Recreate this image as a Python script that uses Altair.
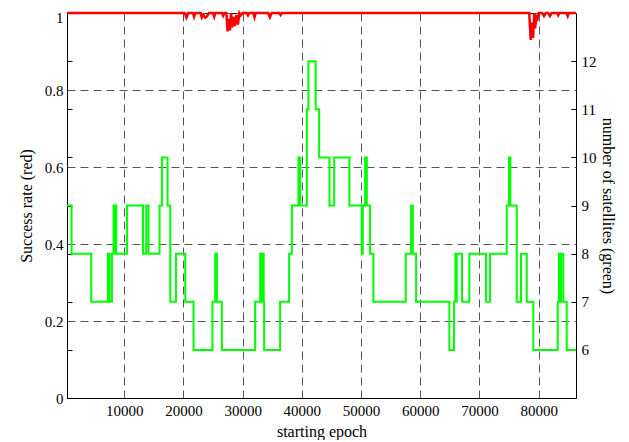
import altair as alt
import pandas as pd

# ---- data ----
green_epoch = [330, 1100, 4430, 7250, 7520, 7920, 8190, 8400, 8480, 8650,
               10460, 13160, 13710, 14100, 15960, 16360, 17310, 17770, 18730, 20300,
               21700, 24900, 25360, 25650, 26490, 32110, 32960, 33210, 33300, 33550,
               33630, 36330, 37850, 38310, 39420, 39710, 40840, 41110, 42330, 42920,
               44660, 45450, 48030, 50120, 50290, 50680, 50970, 51520, 52080, 57550,
               58450, 58730, 59290, 64910, 65700, 65920, 66040, 66160, 67050, 68290,
               71110, 71780, 74600, 74990, 75210, 76290, 77010, 77980, 79090, 83210,
               83430, 83600, 83770, 84150, 84730, 86300]
green_sats = [9, 8, 7, 8, 7, 8, 9, 8, 9, 8,
              9, 8, 9, 8, 9, 10, 9, 7, 8, 7,
              6, 7, 8, 7, 6, 7, 8, 7, 8, 7,
              6, 7, 8, 9, 10, 9, 11, 12, 11, 10,
              9, 10, 9, 8, 9, 10, 9, 8, 7, 8,
              9, 8, 7, 6, 7, 8, 7, 8, 7, 8,
              7, 8, 9, 10, 9, 7, 8, 7, 6, 7,
              8, 7, 8, 7, 6, 6]

red_epoch = [330, 20200, 20500, 20800, 21600, 21800, 22000, 22900, 23100, 23400,
             23700, 24000, 24300, 25000, 25200, 25400, 26500, 26700, 26900, 27250,
             27450, 27650, 27850, 28050, 28250, 28450, 28700, 28950, 29200, 29450,
             29700, 30000, 30700, 30900, 31100, 31800, 32000, 32200, 34300, 34600,
             34900, 36200, 36400, 36600, 78400, 78650, 78850, 79050, 79250, 79400,
             79600, 79800, 80000, 80600, 80900, 81200, 81600, 81900, 82200, 83100,
             83300, 83500, 84700, 84900, 85100, 86300]
red_rate = [1, 1, 0.988, 1, 1, 0.99, 1, 1, 0.988, 0.995,
            0.988, 0.992, 1, 1, 0.99, 1, 1, 0.993, 1, 1,
            0.952, 0.985, 0.955, 1, 0.963, 0.99, 0.966, 0.995, 0.97, 1,
            0.994, 1, 1, 0.994, 1, 1, 0.989, 1, 1, 0.989,
            1, 1, 0.995, 1, 1, 0.93, 0.975, 0.935, 1, 0.96,
            0.99, 0.985, 1, 1, 0.992, 1, 1, 0.992, 1, 1,
            0.994, 1, 1, 0.992, 1, 1]

x_ticks = [10000, 20000, 30000, 40000, 50000, 60000, 70000, 80000]
left_ticks = [0, 0.2, 0.4, 0.6, 0.8, 1]
right_ticks = [6, 7, 8, 9, 10, 11, 12]

green_df = pd.DataFrame({"epoch": green_epoch, "sats": green_sats})
red_df = pd.DataFrame({"epoch": red_epoch, "rate": red_rate})

FONT = "Liberation Serif"
GRID = "#555555"
DASH = [8, 5]

xscale = alt.Scale(domain=[330, 86300], nice=False, zero=False)
xaxis = alt.Axis(values=x_ticks, format="d", grid=True, gridDash=DASH, gridColor=GRID,
                 gridWidth=1, ticks=False, labelPadding=5, title="starting epoch",
                 titlePadding=5, domainColor="black")

red = alt.Chart(red_df).mark_line(color="#ff0000", strokeWidth=2.5, clip=False).encode(
    x=alt.X("epoch:Q", scale=xscale, axis=xaxis),
    y=alt.Y("rate:Q", scale=alt.Scale(domain=[0, 1], nice=False),
            axis=alt.Axis(orient="left", values=left_ticks, format="~g", grid=True,
                          gridDash=DASH, gridColor=GRID, ticks=False, labelPadding=4,
                          labelOffset=alt.condition("datum.value == 1", alt.value(4), alt.value(0)),
                          title="Success rate (red)", titlePadding=10,
                          domainColor="black")),
)

green = alt.Chart(green_df).mark_line(color="#00ff00", strokeWidth=2,
                                      interpolate="step-after").encode(
    x=alt.X("epoch:Q", scale=xscale),
    y=alt.Y("sats:Q", scale=alt.Scale(domain=[5, 13], nice=False, zero=False),
            axis=alt.Axis(orient="right", values=right_ticks, grid=False, offset=-5,
                          tickSize=5, tickColor="black", domain=False, labelPadding=5,
                          title="number of satellites (green)", titlePadding=3)),
)

left_sat_ticks = alt.Chart(green_df).mark_line(opacity=0).encode(
    x=alt.X("epoch:Q", scale=xscale),
    y=alt.Y("sats:Q", scale=alt.Scale(domain=[5, 13], nice=False, zero=False),
            axis=alt.Axis(orient="left", values=right_ticks, grid=False, offset=-5,
                          tickSize=5, tickColor="black", domain=False, labels=False,
                          title="")),
)

chart = alt.layer(red, green, left_sat_ticks).resolve_scale(y="independent").properties(
    width=509, height=385,
    background="white",
    autosize=alt.AutoSizeParams(type="none"),
    padding={"left": 59, "top": 5, "right": 45, "bottom": 42},
).configure_view(stroke="black", strokeWidth=1).configure_axis(
    labelFont=FONT, labelFontSize=15, labelColor="black",
    titleFont=FONT, titleFontSize=16, titleFontWeight="normal", titleColor="black",
)

chart.save("out.html", embed_options={"renderer": "svg", "actions": False})
